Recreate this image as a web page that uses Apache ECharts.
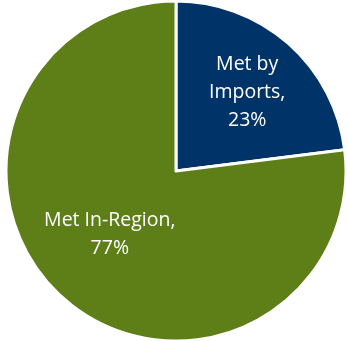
<!DOCTYPE html>
<html>
<head>
<meta charset="utf-8">
<script src="https://cdn.jsdelivr.net/npm/echarts@6/dist/echarts.min.js"></script>
<style>
  html, body { margin: 0; padding: 0; background: #fff; }
  #chart { width: 347px; height: 341px; }
</style>
</head>
<body>
<div id="chart"></div>
<script>
const categories = ['Met by Imports', 'Met In-Region']
const values = [23, 77]
const colors = ['#003468', '#5E7E17']
// label nudges from the default "inside" spot
const labelOffsets = [[13, -13], [-8, -3]]

const chart = echarts.init(document.getElementById('chart'))

chart.setOption({
  animation: false,
  series: [
    {
      type: 'pie',
      center: [176, 171],
      radius: [0, 170],
      startAngle: 90,
      clockwise: true,
      data: categories.map((name, i) => ({
        name,
        value: values[i],
        itemStyle: { color: colors[i] },
        label: { offset: labelOffsets[i] },
      })),
      itemStyle: { borderColor: '#fff', borderWidth: 3 },
      label: {
        show: true,
        position: 'inside',
        color: '#fff',
        fontFamily: 'Open Sans',
        fontSize: 19.5,
        lineHeight: 28,
        formatter: (p) => {
          if (p.dataIndex === 0) return 'Met by\nImports,\n' + p.value + '%'
          return 'Met In-Region,\n' + p.value + '%'
        },
      },
      labelLine: { show: false },
      emphasis: { disabled: true },
    },
  ],
})
</script>
</body>
</html>
